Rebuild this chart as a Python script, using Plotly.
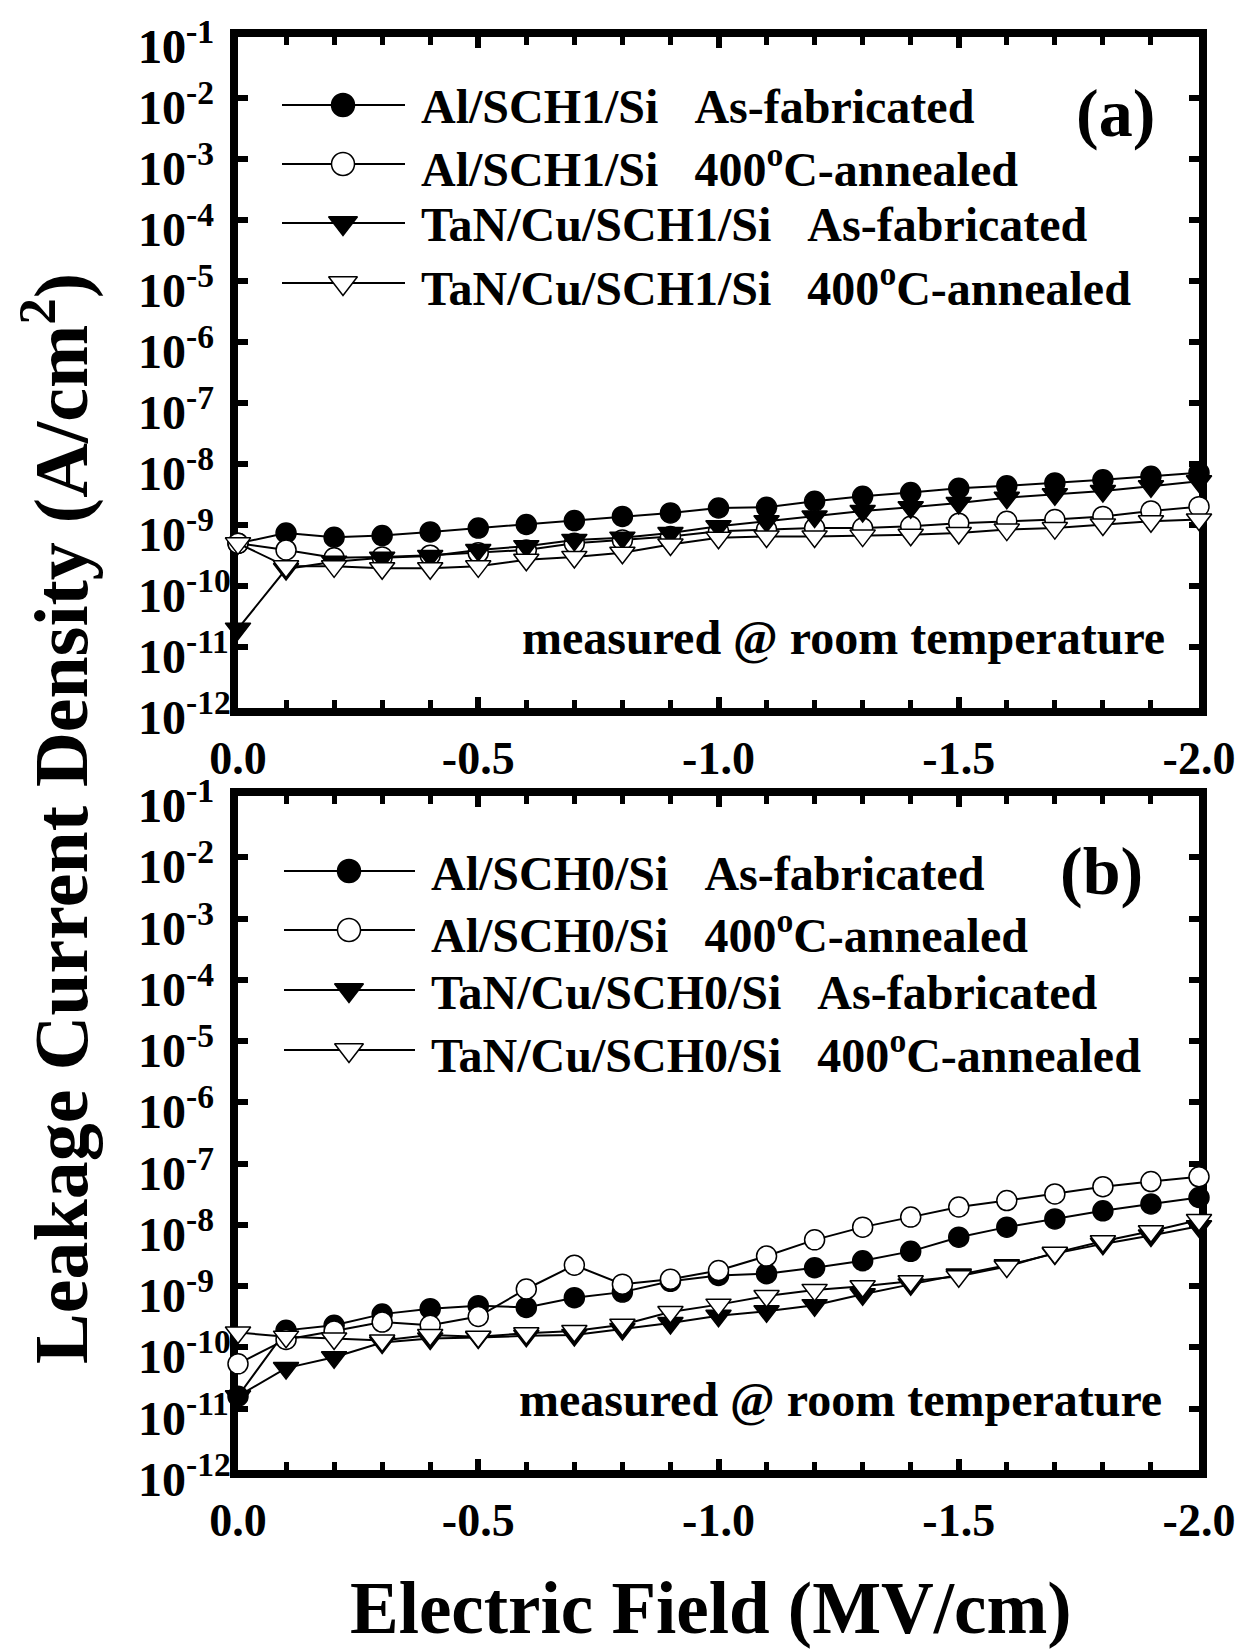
import plotly.graph_objects as go

# ---------------------------------------------------------------- data
field = [0.0, -0.1, -0.2, -0.3, -0.4, -0.5, -0.6, -0.7, -0.8, -0.9, -1.0,
         -1.1, -1.2, -1.3, -1.4, -1.5, -1.6, -1.7, -1.8, -1.9, -2.0]

# (a) SCH1 films, leakage current density in A/cm^2
a_al_asfab = [5.0e-10, 7.4e-10, 6.3e-10, 6.7e-10, 7.7e-10, 8.9e-10, 1.02e-9,
              1.18e-9, 1.38e-9, 1.58e-9, 1.9e-9, 1.95e-9, 2.45e-9, 2.95e-9,
              3.4e-9, 4.0e-9, 4.4e-9, 4.9e-9, 5.5e-9, 6.3e-9, 7.2e-9]
a_al_ann = [5.0e-10, 3.9e-10, 2.9e-10, 3.0e-10, 3.2e-10, 3.5e-10, 3.9e-10,
            5.0e-10, 5.7e-10, 6.5e-10, 7.9e-10, 8.4e-10, 8.9e-10, 8.9e-10,
            9.5e-10, 1.07e-9, 1.15e-9, 1.23e-9, 1.38e-9, 1.7e-9, 2.0e-9]
a_tan_asfab = [2.0e-11, 1.9e-10, 2.5e-10, 2.9e-10, 3.1e-10, 3.9e-10, 4.5e-10,
               5.7e-10, 6.2e-10, 7.4e-10, 9.5e-10, 1.15e-9, 1.38e-9, 1.7e-9,
               1.95e-9, 2.3e-9, 2.8e-9, 3.2e-9, 3.6e-9, 4.3e-9, 5.2e-9]
a_tan_ann = [5.0e-10, 2.1e-10, 2.1e-10, 1.95e-10, 1.95e-10, 2.1e-10, 2.7e-10,
             3.0e-10, 3.5e-10, 4.8e-10, 6.2e-10, 6.5e-10, 6.5e-10, 6.7e-10,
             6.9e-10, 7.4e-10, 8.4e-10, 8.9e-10, 1.02e-9, 1.15e-9, 1.23e-9]

# (b) SCH0 films
b_al_asfab = [1.6e-11, 1.9e-10, 2.3e-10, 3.5e-10, 4.3e-10, 4.8e-10, 4.5e-10,
              6.5e-10, 8.0e-10, 1.2e-9, 1.5e-9, 1.6e-9, 2.0e-9, 2.6e-9,
              3.7e-9, 6.3e-9, 9.2e-9, 1.25e-8, 1.7e-8, 2.2e-8, 2.8e-8]
b_al_ann = [5.4e-11, 1.35e-10, 1.85e-10, 2.6e-10, 2.3e-10, 3.2e-10, 9.0e-10,
            2.2e-9, 1.08e-9, 1.3e-9, 1.8e-9, 3.1e-9, 5.7e-9, 9.2e-9,
            1.34e-8, 1.96e-8, 2.5e-8, 3.2e-8, 4.2e-8, 5.1e-8, 6.1e-8]
b_tan_asfab = [1.6e-11, 4.6e-11, 6.9e-11, 1.2e-10, 1.4e-10, 1.45e-10, 1.55e-10,
               1.6e-10, 2.0e-10, 2.5e-10, 3.3e-10, 3.9e-10, 4.9e-10, 7.4e-10,
               1.07e-9, 1.55e-9, 2.2e-9, 3.4e-9, 4.9e-9, 6.7e-9, 9.5e-9]
b_tan_ann = [1.75e-10, 1.5e-10, 1.4e-10, 1.3e-10, 1.6e-10, 1.5e-10, 1.7e-10,
             1.85e-10, 2.35e-10, 3.8e-10, 5.0e-10, 6.9e-10, 8.7e-10, 1.0e-9,
             1.2e-9, 1.45e-9, 2.1e-9, 3.5e-9, 5.4e-9, 7.9e-9, 1.2e-8]

a_labels = ["Al/SCH1/Si   As-fabricated",
            "Al/SCH1/Si   400<sup>o</sup>C-annealed",
            "TaN/Cu/SCH1/Si   As-fabricated",
            "TaN/Cu/SCH1/Si   400<sup>o</sup>C-annealed"]
b_labels = ["Al/SCH0/Si   As-fabricated",
            "Al/SCH0/Si   400<sup>o</sup>C-annealed",
            "TaN/Cu/SCH0/Si   As-fabricated",
            "TaN/Cu/SCH0/Si   400<sup>o</sup>C-annealed"]

x_tickvals = [0.0, -0.5, -1.0, -1.5, -2.0]
x_ticktext = ["0.0", "-0.5", "-1.0", "-1.5", "-2.0"]
x_minorvals = [-0.1, -0.2, -0.3, -0.4, -0.6, -0.7, -0.8, -0.9,
               -1.1, -1.2, -1.3, -1.4, -1.6, -1.7, -1.8, -1.9]
y_exponents = list(range(-12, 0))

# ---------------------------------------------------------------- layout
W, H = 1240, 1649
FONT = "Liberation Serif"
PLOT_L, PLOT_R = 238, 1199
PANEL_A = (37, 708)      # top, bottom in px
PANEL_B = (796, 1470)


def px_x(v):
    return v / W


def px_y(v):
    return 1 - v / H


marker_styles = [
    dict(symbol="circle", size=20, color="black", line=dict(color="black", width=1.5)),
    dict(symbol="circle", size=20, color="white", line=dict(color="black", width=1.5)),
    dict(symbol="triangle-down", size=22, color="black", line=dict(color="black", width=1.5)),
    dict(symbol="triangle-down", size=22, color="white", line=dict(color="black", width=1.5)),
]

fig = go.Figure()

panels = [
    dict(xa="x", ya="y", series=[a_al_asfab, a_al_ann, a_tan_asfab, a_tan_ann],
         labels=a_labels, box=PANEL_A, tag="(a)", tag_xy=(1115, 113),
         leg_rows=[105, 164, 223, 283], leg_line=(282, 343, 405), leg_text_x=419,
         note_xy=(1167, 638)),
    dict(xa="x2", ya="y2", series=[b_al_asfab, b_al_ann, b_tan_asfab, b_tan_ann],
         labels=b_labels, box=PANEL_B, tag="(b)", tag_xy=(1101, 871),
         leg_rows=[871, 930, 990, 1050], leg_line=(284, 349, 415), leg_text_x=429,
         note_xy=(1164, 1399)),
]

annotations = []

for p in panels:
    for vals, lab, ms in zip(p["series"], p["labels"], marker_styles):
        fig.add_trace(go.Scatter(
            x=field, y=vals, xaxis=p["xa"], yaxis=p["ya"], mode="lines+markers",
            name=lab, line=dict(color="black", width=2), marker=ms,
            cliponaxis=False, showlegend=False))

    # legend samples drawn on a pixel-space overlay axis
    x0, xm, x1 = p["leg_line"]
    for row, lab, ms in zip(p["leg_rows"], p["labels"], marker_styles):
        fig.add_trace(go.Scatter(
            x=[x0, x1], y=[row, row], xaxis="x3", yaxis="y3", mode="lines",
            line=dict(color="black", width=2), showlegend=False, hoverinfo="skip"))
        big = dict(ms)
        big["size"] = ms["size"] + 3
        fig.add_trace(go.Scatter(
            x=[xm], y=[row], xaxis="x3", yaxis="y3", mode="markers",
            marker=big, showlegend=False, hoverinfo="skip"))
        annotations.append(dict(
            text="<b>" + lab.replace("   ", "\u00a0\u00a0\u00a0") + "</b>",
            xref="paper", yref="paper", x=px_x(p["leg_text_x"]), y=px_y(row + 2),
            xanchor="left", yanchor="middle", showarrow=False,
            font=dict(family=FONT, size=48, color="black")))

    annotations.append(dict(
        text="<b>" + p["tag"] + "</b>", xref="paper", yref="paper",
        x=px_x(p["tag_xy"][0]), y=px_y(p["tag_xy"][1]), xanchor="center",
        yanchor="middle", showarrow=False,
        font=dict(family=FONT, size=68, color="black")))

    annotations.append(dict(
        text="<b>measured @ room temperature</b>", xref="paper", yref="paper",
        x=px_x(p["note_xy"][0]), y=px_y(p["note_xy"][1]), xanchor="right",
        yanchor="middle", showarrow=False,
        font=dict(family=FONT, size=48, color="black")))

    # decade labels, left aligned beside the axis
    for e in y_exponents + [-1]:
        annotations.append(dict(
            text="<b>10<sup>%d</sup></b>" % e, xref="paper", yref=p["ya"],
            x=px_x(136), y=e, xanchor="left", yanchor="middle", yshift=-6,
            showarrow=False, font=dict(family=FONT, size=48, color="black")))

annotations.append(dict(
    text="<b>Electric Field (MV/cm)</b>", xref="paper", yref="paper",
    x=px_x((PLOT_L + PLOT_R) / 2 - 7), y=px_y(1608), xanchor="center",
    yanchor="middle", showarrow=False,
    font=dict(family=FONT, size=73, color="black")))
annotations.append(dict(
    text="<b>Leakage Current Density (A/cm<sup>2</sup>)</b>", xref="paper",
    yref="paper", x=px_x(56), y=px_y(819), xanchor="center", yanchor="middle",
    textangle=-90, showarrow=False,
    font=dict(family=FONT, size=76, color="black")))


def x_axis(anchor):
    return dict(
        domain=[px_x(PLOT_L), px_x(PLOT_R)], anchor=anchor, range=[0, -2],
        tickmode="array", tickvals=x_tickvals, ticktext=x_ticktext,
        ticks="inside", ticklen=11, tickwidth=6, tickcolor="black",
        minor=dict(tickvals=x_minorvals, ticks="inside", ticklen=8,
                   tickwidth=5, tickcolor="black"),
        showline=True, linewidth=8, linecolor="black", mirror="ticks",
        showgrid=False, zeroline=False, layer="below traces",
        tickfont=dict(family=FONT, size=46, color="black", weight="bold"),
        ticklabelstandoff=3, fixedrange=True, automargin=False)


def y_axis(anchor, box):
    top, bot = box
    return dict(
        domain=[px_y(bot), px_y(top)], anchor=anchor, type="log",
        range=[-12, -1], tickmode="array",
        tickvals=[10.0 ** e for e in y_exponents], showticklabels=False,
        ticks="inside", ticklen=10, tickwidth=6, tickcolor="black",
        showline=True, linewidth=8, linecolor="black", mirror="ticks",
        showgrid=False, zeroline=False, layer="below traces",
        fixedrange=True, automargin=False)


fig.update_layout(
    width=W, height=H, margin=dict(l=0, r=0, t=0, b=0),
    paper_bgcolor="white", plot_bgcolor="rgba(0,0,0,0)", showlegend=False,
    xaxis=x_axis("y"), yaxis=y_axis("x", PANEL_A),
    xaxis2=x_axis("y2"), yaxis2=y_axis("x2", PANEL_B),
    xaxis3=dict(domain=[0, 1], range=[0, W], visible=False, anchor="y3",
                fixedrange=True),
    yaxis3=dict(domain=[0, 1], range=[H, 0], visible=False, anchor="x3",
                fixedrange=True),
    annotations=annotations,
)

fig.write_html("out.html")
